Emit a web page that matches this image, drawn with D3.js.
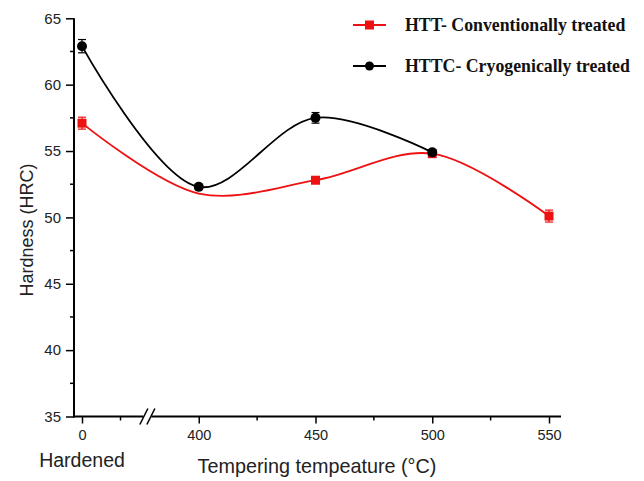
<!DOCTYPE html>
<html>
<head>
<meta charset="utf-8">
<script src="https://cdn.jsdelivr.net/npm/d3@7"></script>
<style>
  body { margin: 0; background: #fff; }
  svg { display: block; }
  .tick text { font-family: "Liberation Sans", Arial, sans-serif; }
</style>
</head>
<body>
<svg id="chart" width="644" height="481"></svg>
<script>
const svg = d3.select("#chart");

// category positions on the (broken) x axis
const categories = ["0", "400", "450", "500", "550"];
const minorTicks = [0.33, 1.5, 2.5, 3.5];
const yTicks = [35, 40, 45, 50, 55, 60, 65];
const yMinor = [37.5, 42.5, 47.5, 52.5, 57.5, 62.5];

// HTT - conventionally treated (the 400 value shows only in the curve, no marker)
const httCats = ["0", "400", "450", "500", "550"];
const httVals = [57.1, 51.8, 52.8, 54.8, 50.1];
const httErr = [0.45, null, 0.2, 0.2, 0.45];

// HTTC - cryogenically treated
const httcCats = ["0", "400", "450", "500"];
const httcVals = [62.9, 52.3, 57.5, 54.9];
const httcErr = [0.5, 0.2, 0.4, 0.2];

const RED = "#ee1111";
const BLACK = "#000";

let xscale = d3.scaleLinear()
    .domain([0, categories.length - 1])
    .range([82, 549]);
const xcat = c => xscale(categories.indexOf(c));

let yscale = d3.scaleLinear()
    .domain([35, 65])
    .range([416.5, 18.3]);

function main() {
    drawAxes();
    drawSeries(httCats, httVals, httErr, RED, "square");
    drawSeries(httcCats, httcVals, httcErr, BLACK, "circle");
    drawLegend();
}

function drawAxes() {
    const xAxis = svg.append("g")
        .attr("transform", `translate(0,${yscale(35)})`)
        .call(d3.axisBottom(xscale)
            .tickValues(d3.range(categories.length))
            .tickFormat(i => categories[i])
            .tickSize(7)
            .tickPadding(6));
    xAxis.select(".domain").remove();
    xAxis.selectAll(".tick line").attr("stroke-width", 1.5);
    xAxis.selectAll(".tick text").attr("font-size", 14.5).attr("fill", "#222");

    // minor x ticks
    svg.append("g").selectAll("line").data(minorTicks).join("line")
        .attr("x1", d => xscale(d)).attr("x2", d => xscale(d))
        .attr("y1", yscale(35)).attr("y2", yscale(35) + 4)
        .attr("stroke", "#000").attr("stroke-width", 1.5);

    // x axis line
    svg.append("line")
        .attr("x1", 74).attr("x2", 561)
        .attr("y1", yscale(35)).attr("y2", yscale(35))
        .attr("stroke", "#000").attr("stroke-width", 2);

    // axis break marks
    const bx = xscale(0.56), by = yscale(35);
    svg.append("rect")
        .attr("x", bx - 4).attr("y", by - 3).attr("width", 8).attr("height", 6)
        .attr("fill", "#fff");
    [-3.5, 3.5].forEach(dx => {
        svg.append("line")
            .attr("x1", bx + dx - 4).attr("y1", by + 8)
            .attr("x2", bx + dx + 4).attr("y2", by - 8)
            .attr("stroke", "#000").attr("stroke-width", 1.5);
    });

    const yAxis = svg.append("g")
        .attr("transform", "translate(74,0)")
        .call(d3.axisLeft(yscale)
            .tickValues(yTicks)
            .tickSize(8)
            .tickPadding(5));
    yAxis.select(".domain").attr("stroke-width", 2).attr("d", `M0,${yscale(35) + 1}V${yscale(65)}`);
    yAxis.selectAll(".tick line").attr("stroke-width", 1.5);
    yAxis.selectAll(".tick text").attr("font-size", 15).attr("fill", "#222");

    svg.append("g").selectAll("line").data(yMinor).join("line")
        .attr("x1", 74).attr("x2", 70)
        .attr("y1", d => yscale(d)).attr("y2", d => yscale(d))
        .attr("stroke", "#000").attr("stroke-width", 1.5);

    // axis titles
    svg.append("text")
        .attr("transform", "translate(33,230) rotate(-90)")
        .attr("text-anchor", "middle")
        .attr("font-family", "Liberation Sans, Arial, sans-serif")
        .attr("font-size", 18)
        .attr("fill", "#222")
        .text("Hardness (HRC)");
    svg.append("text")
        .attr("x", 82).attr("y", 467)
        .attr("text-anchor", "middle")
        .attr("font-family", "Liberation Sans, Arial, sans-serif")
        .attr("font-size", 19.5)
        .attr("fill", "#222")
        .text("Hardened");
    svg.append("text")
        .attr("x", 317).attr("y", 473)
        .attr("text-anchor", "middle")
        .attr("font-family", "Liberation Sans, Arial, sans-serif")
        .attr("font-size", 19.8)
        .attr("fill", "#222")
        .text("Tempering tempeature (°C)");
}

function drawSeries(cats, vals, errs, color, shape) {
    const pts = cats.map((c, i) => ({x: xcat(c), y: yscale(vals[i]), v: vals[i], e: errs[i]}));
    const marked = pts.filter(d => d.e != null);
    const line = d3.line().x(d => d.x).y(d => d.y).curve(d3.curveCatmullRom);
    const g = svg.append("g");
    g.append("path")
        .datum(pts)
        .attr("d", line)
        .attr("fill", "none")
        .attr("stroke", color)
        .attr("stroke-width", 1.8);

    // error bars
    const eb = g.selectAll(".err").data(marked).join("g").attr("class", "err");
    eb.append("line")
        .attr("x1", d => d.x).attr("x2", d => d.x)
        .attr("y1", d => yscale(d.v + d.e)).attr("y2", d => yscale(d.v - d.e))
        .attr("stroke", color).attr("stroke-width", 1.2);
    [1, -1].forEach(s => {
        eb.append("line")
            .attr("x1", d => d.x - 4).attr("x2", d => d.x + 4)
            .attr("y1", d => yscale(d.v + s * d.e)).attr("y2", d => yscale(d.v + s * d.e))
            .attr("stroke", color).attr("stroke-width", 1.2);
    });

    if (shape == "square") {
        g.selectAll(".pt").data(marked).join("rect")
            .attr("x", d => d.x - 4.5).attr("y", d => d.y - 4.5)
            .attr("width", 9).attr("height", 9)
            .attr("fill", color);
    } else {
        g.selectAll(".pt").data(marked).join("circle")
            .attr("cx", d => d.x).attr("cy", d => d.y)
            .attr("r", 5)
            .attr("fill", color);
    }
}

function drawLegend() {
    const items = [
        {label: "HTT- Conventionally treated", color: RED, shape: "square", y: 25},
        {label: "HTTC- Cryogenically treated", color: BLACK, shape: "circle", y: 66},
    ];
    const lg = svg.append("g");
    items.forEach(it => {
        lg.append("line")
            .attr("x1", 353).attr("x2", 386)
            .attr("y1", it.y).attr("y2", it.y)
            .attr("stroke", it.color).attr("stroke-width", 1.8);
        if (it.shape == "square") {
            lg.append("rect").attr("x", 365).attr("y", it.y - 4.5)
                .attr("width", 9).attr("height", 9).attr("fill", it.color);
        } else {
            lg.append("circle").attr("cx", 369.5).attr("cy", it.y)
                .attr("r", 4.5).attr("fill", it.color);
        }
        lg.append("text")
            .attr("x", 405).attr("y", it.y + 6)
            .attr("font-family", "Liberation Serif, Times New Roman, serif")
            .attr("font-weight", "bold")
            .attr("font-size", 17.8)
            .attr("fill", "#111")
            .text(it.label);
    });
}

main();
</script>
</body>
</html>
